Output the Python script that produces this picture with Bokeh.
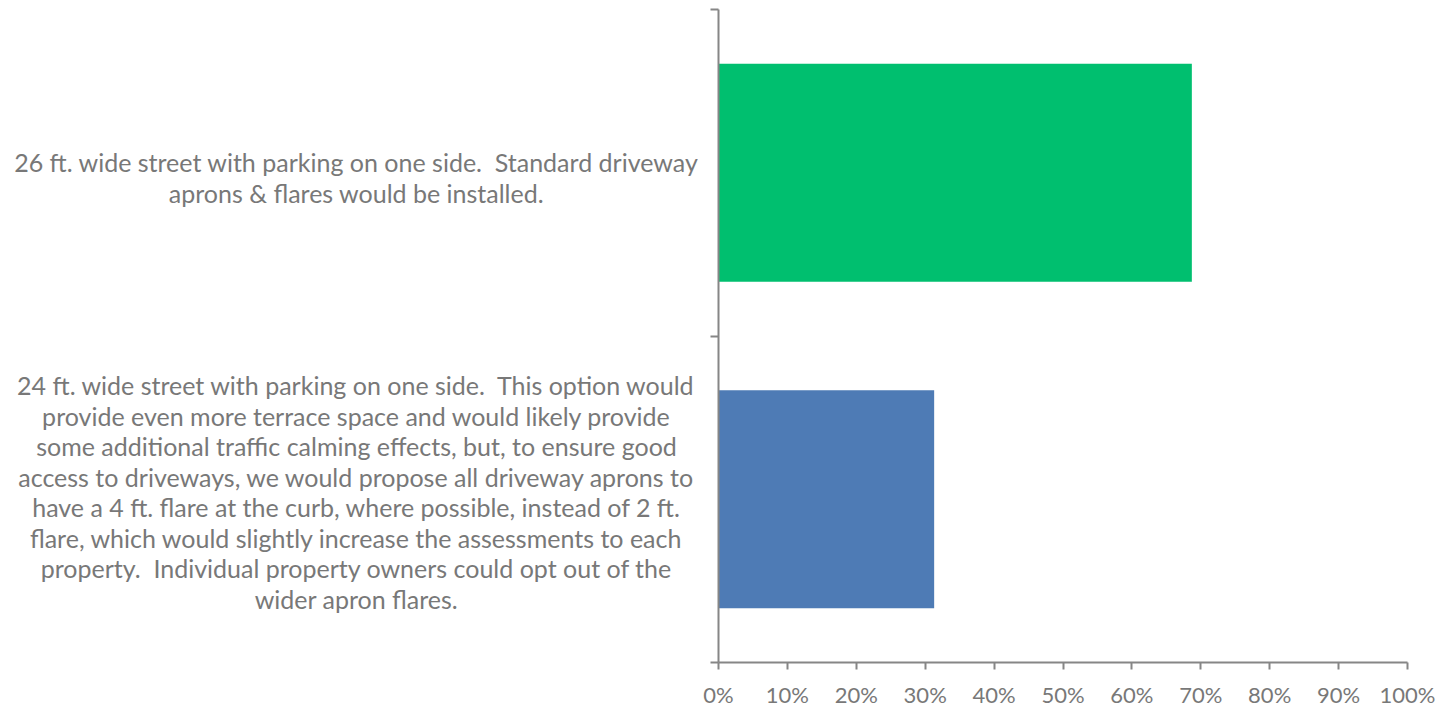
from bokeh.plotting import figure
from bokeh.layouts import row
from bokeh.models import Range1d, FixedTicker, NumeralTickFormatter
from bokeh.core.properties import value
from bokeh.embed import file_html
from bokeh.resources import INLINE

S2 = "\u00a0 "  # double space kept visible in SVG
categories = [
    "24 ft. wide street with parking on one side." + S2 + "This option would\nprovide even more terrace space and would likely provide\nsome additional traffic calming effects, but, to ensure good\naccess to driveways, we would propose all driveway aprons to\nhave a 4 ft. flare at the curb, where possible, instead of 2 ft.\nflare, which would slightly increase the assessments to each\nproperty." + S2 + "Individual property owners could opt out of the\nwider apron flares.",
    "26 ft. wide street with parking on one side." + S2 + "Standard driveway\naprons & flares would be installed.",
]
values = [0.313, 0.687]
colors = ["#4E7BB5", "#00BF6F"]
x_ticks = [i / 10 for i in range(11)]

FONT = "Lato"
GRAY = "#787878"
AXIS = "#868686"
H = 710
TOP, BOTTOM = 9, 48
LEFT_W = 698

y_range = Range1d(0, 2)

# chart
p = figure(width=1440 - LEFT_W, height=H, output_backend="svg", toolbar_location=None,
           x_range=Range1d(0, 1), y_range=y_range,
           min_border_left=20, min_border_right=33, min_border_top=TOP, min_border_bottom=BOTTOM)
p.outline_line_color = None
p.grid.visible = False

ys = [i + 0.5 for i in range(len(values))]
p.hbar(y=ys, right=values, left=0, height=0.667, color=colors, line_color=None)

p.xaxis.ticker = FixedTicker(ticks=x_ticks)
p.xaxis.formatter = NumeralTickFormatter(format="0%")
p.xaxis.axis_line_color = AXIS
p.xaxis.axis_line_width = 2
p.xaxis.major_tick_line_color = AXIS
p.xaxis.major_tick_line_width = 2
p.xaxis.major_tick_out = 7
p.xaxis.major_tick_in = 0
p.xaxis.minor_tick_line_color = None
p.xaxis.major_label_text_font = FONT
p.xaxis.major_label_text_font_size = "22px"
p.xaxis.major_label_text_color = GRAY
p.xaxis.major_label_standoff = 11

p.yaxis.ticker = FixedTicker(ticks=[0, 1, 2])
p.yaxis.major_label_text_font_size = "0px"
p.yaxis.major_label_text_color = None
p.yaxis.major_label_standoff = 0
p.yaxis.axis_line_color = AXIS
p.yaxis.axis_line_width = 2
p.yaxis.major_tick_line_color = AXIS
p.yaxis.major_tick_line_width = 2
p.yaxis.major_tick_out = 8
p.yaxis.major_tick_in = 0
p.yaxis.minor_tick_line_color = None

# category labels panel
q = figure(width=LEFT_W, height=H, output_backend="svg", toolbar_location=None,
           x_range=Range1d(0, LEFT_W), y_range=y_range,
           min_border_left=0, min_border_right=0, min_border_top=TOP, min_border_bottom=BOTTOM)
q.axis.visible = False
q.grid.visible = False
q.outline_line_color = None
label_y = [0.522, 1.485]
q.text(x=[356] * len(categories), y=label_y, text=categories, text_align="center",
       text_baseline="middle", text_font=value(FONT), text_font_size="25px",
       text_color=GRAY, text_line_height=1.015)

layout = row(q, p)
open("out.html", "w").write(file_html(layout, INLINE))
